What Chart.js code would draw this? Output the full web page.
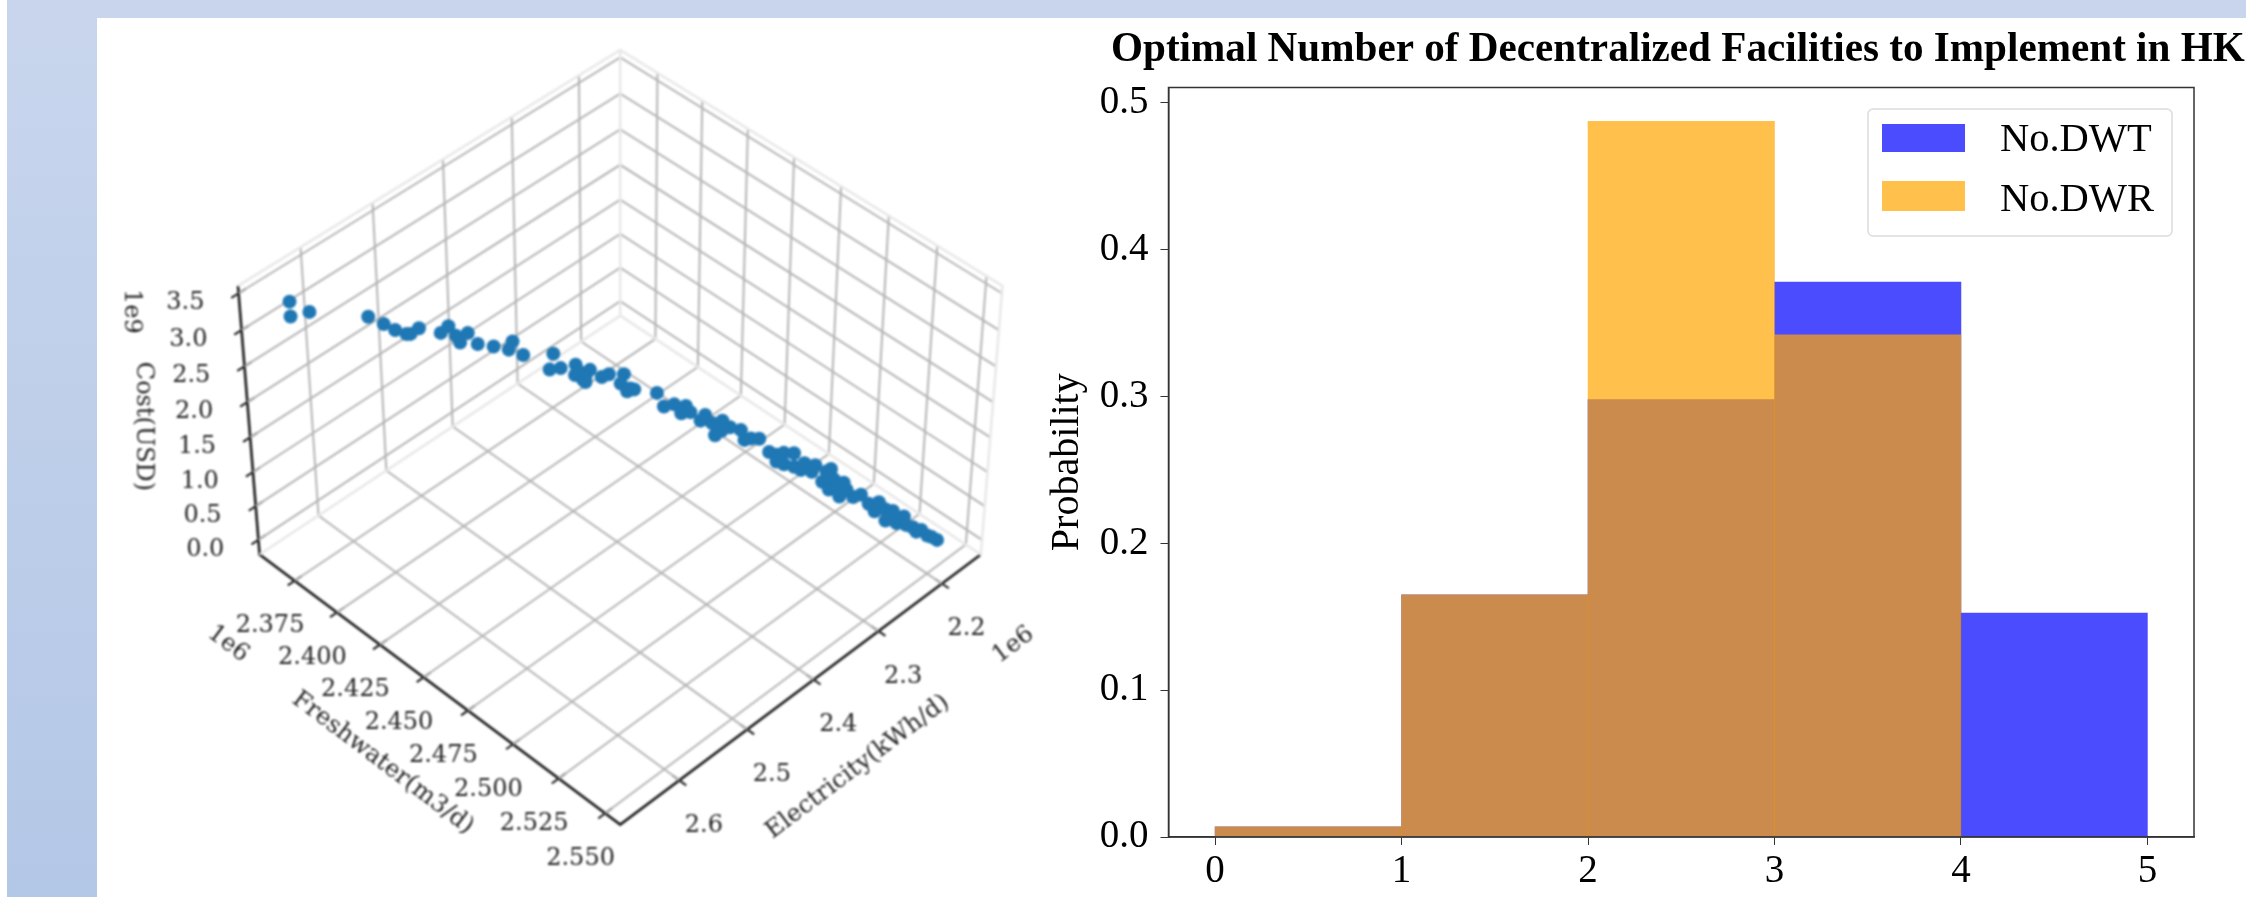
<!DOCTYPE html>
<html>
<head>
<meta charset="utf-8">
<title>Decentralized Facilities</title>
<script src="https://cdn.jsdelivr.net/npm/chart.js@4"></script>
<style>
    html, body { margin: 0; height: 100%; overflow: hidden; background: #fff; }
    #bgTop { position: absolute; left: 7px; top: 0; width: 2239px; height: 18px; background: #c8d5ed; }
    #bgLeft { position: absolute; left: 7px; top: 18px; width: 90px; height: 879px; background: linear-gradient(#c8d5ed, #b3c7e6); }
    #cost3d { position: absolute; left: 97px; top: 18px; filter: blur(0.8px); }
    #hist { position: absolute; left: 1040px; top: 18px; filter: blur(0.4px); }
</style>
</head>
<body>
<div id="bgTop"></div>
<div id="bgLeft"></div>
<canvas id="cost3d" width="943" height="879"></canvas>
<canvas id="hist" width="1206" height="879"></canvas>
<script>
// --- DATA: 3D SCATTER (1e6 kWh/d, 1e6 m3/d, 1e9 USD) ---
const electricity = [2.661,2.661,2.647,2.606,2.595,2.587,2.579,2.576,2.569,2.554,2.548,2.543,2.540,2.534,2.528,2.516,2.505,2.502,2.495,2.473,2.476,2.468,2.457,2.458,2.452,2.447,2.455,2.451,2.451,2.433,2.438,2.422,2.424,2.418,2.415,2.420,2.398,2.393,2.386,2.377,2.381,2.373,2.366,2.362,2.355,2.357,2.350,2.351,2.344,2.336,2.333,2.329,2.322,2.315,2.309,2.304,2.297,2.303,2.296,2.289,2.281,2.272,2.275,2.270,2.262,2.266,2.259,2.252,2.246,2.239,2.232,2.227,2.226,2.221,2.212,2.217,2.206,2.198,2.194,2.187,2.309,2.291,2.283,2.268,2.270,2.257,2.264,2.235,2.222,2.211,2.203,2.190];
const freshwater = [2.373,2.373,2.378,2.394,2.398,2.401,2.404,2.405,2.407,2.413,2.415,2.417,2.418,2.420,2.423,2.427,2.431,2.432,2.435,2.443,2.442,2.445,2.449,2.449,2.451,2.453,2.450,2.452,2.452,2.458,2.456,2.462,2.461,2.464,2.465,2.463,2.471,2.473,2.476,2.479,2.478,2.480,2.483,2.484,2.487,2.486,2.489,2.489,2.491,2.494,2.495,2.497,2.499,2.502,2.504,2.506,2.509,2.506,2.509,2.512,2.515,2.518,2.517,2.519,2.522,2.520,2.523,2.526,2.528,2.530,2.533,2.535,2.535,2.537,2.540,2.538,2.543,2.545,2.547,2.550,2.504,2.511,2.514,2.519,2.519,2.524,2.521,2.532,2.536,2.541,2.544,2.548];
const cost = [3.554,3.355,3.413,3.359,3.258,3.178,3.124,3.124,3.191,3.134,3.222,3.092,2.998,3.124,2.989,2.945,2.901,3.012,2.832,2.846,2.630,2.651,2.697,2.561,2.492,2.630,2.607,2.538,2.469,2.565,2.525,2.565,2.429,2.374,2.360,2.332,2.305,2.116,2.154,2.125,2.030,2.030,1.917,1.988,1.709,1.877,1.917,1.780,1.820,1.780,1.638,1.667,1.652,1.470,1.428,1.457,1.457,1.287,1.258,1.316,1.287,1.188,1.044,0.932,0.830,1.073,1.031,0.830,0.859,0.714,0.745,0.643,0.470,0.615,0.527,0.426,0.382,0.324,0.252,0.193,1.329,1.214,1.188,1.216,1.102,0.932,0.960,0.615,0.498,0.414,0.315,0.221];

const electricityTicks = [2.2, 2.3, 2.4, 2.5, 2.6];
const freshwaterTicks = [2.375, 2.4, 2.425, 2.45, 2.475, 2.5, 2.525, 2.55];
const costTicks = [0, 0.5, 1, 1.5, 2, 2.5, 3, 3.5];
const electricityRange = [2.1375, 2.685];
const freshwaterRange = [2.354, 2.558];
const costRange = [-0.22, 3.6];

// --- DATA: HISTOGRAM ---
const binCenters = [0.5, 1.5, 2.5, 3.5, 4.5];
const probDWT = [0.007, 0.165, 0.298, 0.378, 0.1525];
const probDWR = [0.007, 0.165, 0.4875, 0.342, 0];
const histXTicks = [0, 1, 2, 3, 4, 5];
const histYTicks = [0, 0.1, 0.2, 0.3, 0.4, 0.5];

const SERIF = '"Liberation Serif", "Times New Roman", serif';
const DEJAVU = '"DejaVu Serif", serif';
const BLUE_A = 'rgba(0, 0, 255, 0.7)';
const ORANGE_A = 'rgba(255, 165, 0, 0.7)';

// --- 1. PROJECTION (elev ~43, azim 45, slight perspective) ---
function project(e, f, c) {
    const u = 2 * (e - electricityRange[0]) / (electricityRange[1] - electricityRange[0]) - 1;
    const v = 2 * (f - freshwaterRange[0]) / (freshwaterRange[1] - freshwaterRange[0]) - 1;
    const w = 2 * (c - costRange[0]) / (costRange[1] - costRange[0]) - 1;
    const h = (v - u) / 2 * 376.7;
    const d = (u + v) / 2 * 376.7;
    const z = w * 186.3;
    const yv = z * 0.732 - d * 0.6815;
    const zv = z * 0.6815 + d * 0.732;
    const k = 4363 / (4363 - zv);
    return { x: 621 + h * k, y: 423.5 - yv * k };
}

function seg(points, color, width) {
    return {
        data: points.map(p => project(p[0], p[1], p[2])),
        showLine: true, borderColor: color, borderWidth: width, pointRadius: 0, fill: false
    };
}

const [eLo, eHi] = electricityRange;
const [fLo, fHi] = freshwaterRange;
const [cLo, cHi] = costRange;
const eTickLen = (eHi - eLo) * 0.018;
const fTickLen = (fHi - fLo) * 0.018;

const GRID = '#b4b4b4';
const PANE = '#e8e8e8';
const AXIS = '#1a1a1a';

const lines3d = [];
// pane edges
lines3d.push(seg([[eHi, fLo, cHi], [eLo, fLo, cHi], [eLo, fHi, cHi], [eLo, fHi, cLo], [eLo, fLo, cLo], [eHi, fLo, cLo]], PANE, 2.5));
lines3d.push(seg([[eLo, fLo, cHi], [eLo, fLo, cLo]], PANE, 2.5));
// grid lines
electricityTicks.forEach(t => {
    lines3d.push(seg([[t, fHi, cLo], [t, fLo, cLo], [t, fLo, cHi]], GRID, 2));
});
freshwaterTicks.forEach(t => {
    lines3d.push(seg([[eHi, t, cLo], [eLo, t, cLo], [eLo, t, cHi]], GRID, 2));
});
costTicks.forEach(t => {
    lines3d.push(seg([[eHi, fLo, t], [eLo, fLo, t], [eLo, fHi, t]], GRID, 2));
});
// axes and tick marks
lines3d.push(seg([[eHi, fLo, cHi], [eHi, fLo, cLo], [eHi, fHi, cLo], [eLo, fHi, cLo]], AXIS, 2.6));
electricityTicks.forEach(t => {
    lines3d.push(seg([[t, fHi - fTickLen, cLo], [t, fHi + fTickLen, cLo]], AXIS, 2));
});
freshwaterTicks.forEach(t => {
    lines3d.push(seg([[eHi - eTickLen, t, cLo], [eHi + eTickLen, t, cLo]], AXIS, 2));
});
costTicks.forEach(t => {
    lines3d.push(seg([[eHi - eTickLen, fLo, t], [eHi + eTickLen, fLo, t]], AXIS, 2));
});

const scatterPoints = electricity.map((e, i) => project(e, freshwater[i], cost[i]));

// text helper, px/py are page coordinates
function drawText(chart, str, px, py, opts) {
    const x = chart.scales.x.getPixelForValue(px);
    const y = chart.scales.y.getPixelForValue(py);
    const ctx = chart.ctx;
    ctx.save();
    ctx.translate(x, y);
    ctx.rotate((opts.angle || 0) * Math.PI / 180);
    ctx.font = opts.font;
    ctx.fillStyle = opts.color || '#222';
    ctx.textAlign = 'center';
    ctx.textBaseline = 'middle';
    ctx.fillText(str, 0, 0);
    ctx.restore();
}

const labels3d = {
    id: 'labels3d',
    afterDatasetsDraw(chart) {
        const tickFont = '24px ' + DEJAVU;
        const titleFont = '24px ' + DEJAVU;
        electricityTicks.forEach(t => {
            const p = project(t, fHi, cLo);
            drawText(chart, t.toFixed(1), p.x + 25, p.y + 46, { font: tickFont });
        });
        freshwaterTicks.forEach(t => {
            const p = project(eHi, t, cLo);
            drawText(chart, t.toFixed(3), p.x - 25, p.y + 46, { font: tickFont });
        });
        costTicks.forEach(t => {
            const p = project(eHi, fLo, t);
            drawText(chart, t.toFixed(1), p.x - 54, p.y + 10, { font: tickFont });
        });
        drawText(chart, 'Freshwater(m3/d)', 380, 768, { font: titleFont, angle: 37 });
        drawText(chart, 'Electricity(kWh/d)', 862, 772, { font: titleFont, angle: -37 });
        drawText(chart, 'Cost(USD)', 137, 426, { font: titleFont, angle: 90 });
        drawText(chart, '1e6', 223, 647, { font: titleFont, angle: 37 });
        drawText(chart, '1e6', 1020, 648, { font: titleFont, angle: -37 });
        drawText(chart, '1e9', 125, 309, { font: titleFont, angle: 90 });
    }
};

// --- 2. LEFT CHART ---
new Chart(document.getElementById('cost3d'), {
    type: 'scatter',
    data: {
        datasets: [
            { data: scatterPoints, backgroundColor: '#1f77b4', borderWidth: 0, pointRadius: 7 },
            ...lines3d
        ]
    },
    options: {
        responsive: false, animation: false, devicePixelRatio: 1,
        layout: { padding: 0 },
        plugins: { legend: { display: false }, tooltip: { enabled: false } },
        scales: {
            x: { type: 'linear', display: false, min: 97, max: 1040 },
            y: { type: 'linear', display: false, reverse: true, min: 18, max: 897 }
        }
    },
    plugins: [labels3d]
});

// --- 3. RIGHT CHART ---
const histDecor = {
    id: 'histDecor',
    afterDraw(chart) {
        const ctx = chart.ctx;
        const a = chart.chartArea;
        ctx.save();
        ctx.strokeStyle = '#333';
        ctx.lineWidth = 1.5;
        ctx.strokeRect(a.left, a.top, a.right - a.left, a.bottom - a.top);

        // title, a bit condensed like the source picture
        ctx.save();
        ctx.translate(71, 32);
        ctx.scale(0.957, 1);
        ctx.font = 'bold 43px ' + SERIF;
        ctx.fillStyle = '#000';
        ctx.textBaseline = 'middle';
        ctx.fillText('Optimal Number of Decentralized Facilities to Implement in HK', 0, 0);
        ctx.restore();

        // legend box inside the plot
        ctx.fillStyle = 'rgba(255,255,255,0.8)';
        ctx.strokeStyle = '#dcdcdc';
        ctx.lineWidth = 1.5;
        ctx.beginPath();
        ctx.roundRect(828, 91, 304, 127, 5);
        ctx.fill();
        ctx.stroke();
        ctx.fillStyle = BLUE_A;
        ctx.fillRect(842, 106, 83, 28);
        ctx.fillStyle = ORANGE_A;
        ctx.fillRect(842, 163, 83, 30);
        ctx.fillStyle = '#000';
        ctx.font = '40.5px ' + SERIF;
        ctx.textBaseline = 'middle';
        ctx.fillText('No.DWT', 960, 122);
        ctx.fillText('No.DWR', 960, 182);
        ctx.restore();
    }
};

new Chart(document.getElementById('hist'), {
    type: 'bar',
    data: {
        datasets: [
            {
                label: 'No.DWT', order: 2, backgroundColor: BLUE_A, borderWidth: 0,
                data: binCenters.map((x, i) => ({ x: x, y: probDWT[i] }))
            },
            {
                label: 'No.DWR', order: 1, backgroundColor: ORANGE_A, borderWidth: 0,
                data: binCenters.map((x, i) => ({ x: x, y: probDWR[i] }))
            }
        ]
    },
    options: {
        responsive: false, animation: false, devicePixelRatio: 1,
        layout: { padding: { top: 69.5, right: 52, left: 0, bottom: 0 } },
        plugins: { legend: { display: false }, tooltip: { enabled: false } },
        datasets: { bar: { grouped: false, barPercentage: 1, categoryPercentage: 1 } },
        scales: {
            x: {
                type: 'linear', min: -0.25, max: 5.25, offset: false,
                afterBuildTicks: s => { s.ticks = histXTicks.map(v => ({ value: v })); },
                afterFit: s => { s.height = 60; },
                grid: { offset: false, drawOnChartArea: false, color: '#333', tickLength: 8 },
                border: { color: '#333', width: 1.5 },
                ticks: { color: '#000', font: { family: SERIF, size: 39 }, padding: 3, maxRotation: 0, autoSkip: false, callback: v => String(v) }
            },
            y: {
                type: 'linear', min: 0, max: 0.5105,
                afterBuildTicks: s => { s.ticks = histYTicks.map(v => ({ value: v })); },
                afterFit: s => { s.width = 128.5; },
                grid: { drawOnChartArea: false, color: '#333', tickLength: 8 },
                border: { color: '#333', width: 1.5 },
                ticks: { color: '#000', font: { family: SERIF, size: 39 }, padding: 12, callback: v => v.toFixed(1) },
                title: { display: true, text: 'Probability', color: '#000', font: { family: SERIF, size: 40 }, padding: { top: 3, bottom: 0 } }
            }
        }
    },
    plugins: [histDecor]
});
</script>
</body>
</html>
